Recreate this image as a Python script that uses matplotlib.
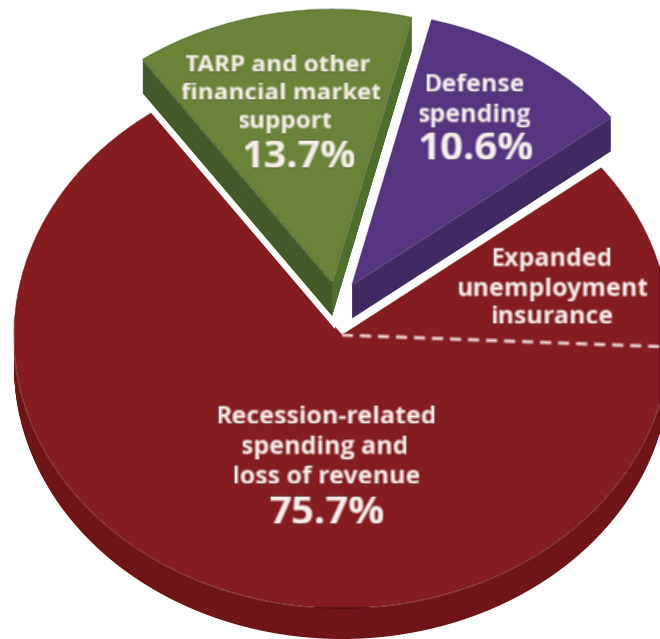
import numpy as np
import matplotlib
matplotlib.use('Agg')
import matplotlib.pyplot as plt

# shares of the pie, counter clockwise from the start angle
names = ['Defense spending', 'TARP and other financial market support', 'Recession-related spending and loss of revenue']
shares = [10.6, 13.7, 75.7]
unemployment_share = 11.2  # part of the red slice, only marked by the dashed line
top_colors = ['#553480', '#6b8239', '#851c20']
side_colors = ['#412a63', '#435a28', '#6f1417']
right_side_green = '#4f6e2c'
explode = [0.072, 0.082, 0]
START = 37.8

W, H = 660, 639
RX, RY = 328.0, 273.0   # pixels per pie radius
CX, CY = 342.0, 335.0   # red slice centre in pixels
RED_DEPTH = 31 / RY
LIFT = 34 / RY          # green and purple stand above the red
# the raised slices do not move strictly along their radius
nudge = [(-3 / RX, 0), (-5 / RX, -3 / RY), (0, 0)]


def px(x, y):
    return (x - CX) / RX, (CY - y) / RY


def blur(img, dpi):
    # small box blur, the reference is a soft upscaled image
    pad = 4
    out = np.pad(img, ((pad, pad), (pad, pad), (0, 0)))
    for axis in (0, 1):
        out = (np.roll(out, -1, axis) + out + np.roll(out, 1, axis)) / 3
    return out, -pad, -pad


fig = plt.figure(figsize=(W / 100, H / 100), dpi=100)
ax = fig.add_axes([0, 0, 1, 1])


def draw_pie(z, show, colors, soft=False, **wedgeprops):
    # one pie per slice so each one can take its own nudge
    for i in show:
        wedges, _ = ax.pie(shares, explode=explode, startangle=START, colors=colors,
                           center=(nudge[i][0], z + nudge[i][1]), radius=1, normalize=True,
                           wedgeprops=wedgeprops)
        for j, w in enumerate(wedges):
            w.set_visible(j == i)
            if soft:
                w.set_agg_filter(blur)


# red body
for z in np.linspace(-RED_DEPTH, 0, 32):
    draw_pie(z, [2], side_colors, linewidth=0)
draw_pie(0, [2], top_colors, soft=True, linewidth=0)

# white halo around the raised slices
for z in np.linspace(0, LIFT, 12):
    draw_pie(z, [0, 1], ['white'] * 3, linewidth=9, edgecolor='white')

# dashed line for the unemployment part
ang = np.deg2rad(START - unemployment_share * 3.6)
dash, = ax.plot([0, np.cos(ang)], [0, np.sin(ang)], color='#efd9d5', lw=2.2, dashes=(3.6, 2.3))
dash.set_agg_filter(blur)

# raised slices
for z in np.linspace(0, LIFT, 36):
    draw_pie(z, [0, 1], side_colors, linewidth=0)

# lighter right hand side of the green slice
a = np.deg2rad(START + shares[0] * 3.6)
mid = np.deg2rad(START + (shares[0] + shares[1] / 2) * 3.6)
ox = explode[1] * np.cos(mid) + nudge[1][0]
oy = explode[1] * np.sin(mid) + nudge[1][1]
ax.fill([ox, ox + np.cos(a), ox + np.cos(a), ox],
        [oy, oy + np.sin(a), oy + np.sin(a) + LIFT, oy + LIFT],
        color=right_side_green, lw=0)

draw_pie(LIFT, [0, 1], top_colors, soft=True, linewidth=0)

# labels, one entry per line
text_color = '#f6efea'
labels = [
    ('TARP and other', 278, 66, 17.5), ('financial market', 281, 94, 17.5), ('support', 286, 122, 17.5),
    ('13.7%', 299, 158, 28.5),
    ('Defense', 475, 85, 18), ('spending', 475, 115, 18), ('10.6%', 476, 150, 29),
    ('Expanded', 552, 259, 18), ('unemployment', 552, 289, 18), ('insurance', 552, 318, 18),
    ('Recession-related', 327, 418, 18), ('spending and', 325, 447, 18), ('loss of revenue', 326, 478, 18),
    ('75.7%', 327, 513, 29),
]
for s, x, y, size in labels:
    tx, ty = px(x, y)
    t = ax.text(tx, ty, s, ha='center', va='center', color=text_color, fontsize=size,
                family='Open Sans', fontweight='bold', zorder=10)
    t.set_agg_filter(blur)

ax.set_aspect('auto')
x0, y0 = px(0, H)
x1, y1 = px(W, 0)
ax.set_xlim(x0, x1)
ax.set_ylim(y0, y1)
ax.axis('off')
fig.savefig('out.png', dpi=100, facecolor='white')
